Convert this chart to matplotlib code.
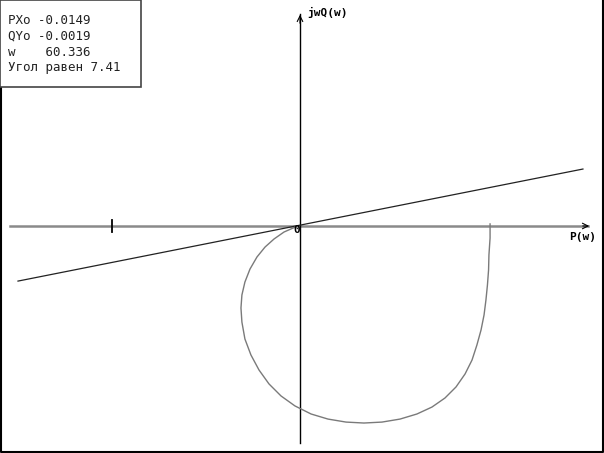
import matplotlib
matplotlib.use("Agg")
import matplotlib.pyplot as plt
from matplotlib.patches import Rectangle

# годограф P(w) + jQ(w)
curve_p = [1.011, 1.011, 1.005, 1.003, 0.997, 0.989, 0.979, 0.963, 0.941, 0.915,
           0.878, 0.830, 0.771, 0.702, 0.622, 0.532, 0.436, 0.340, 0.245, 0.149,
           0.059, -0.027, -0.101, -0.165, -0.218, -0.261, -0.293, -0.309, -0.314,
           -0.309, -0.293, -0.266, -0.229, -0.186, -0.138, -0.085, -0.037, -0.0149]
curve_q = [0.011, -0.064, -0.154, -0.234, -0.314, -0.394, -0.473, -0.553, -0.633,
           -0.713, -0.787, -0.856, -0.915, -0.963, -1.0, -1.027, -1.043, -1.048,
           -1.043, -1.027, -1.0, -0.957, -0.904, -0.840, -0.766, -0.686, -0.601,
           -0.511, -0.436, -0.367, -0.298, -0.229, -0.165, -0.112, -0.069, -0.032,
           -0.011, -0.0019]

# прямая через начало координат
line_p = [-1.5, 1.505]
line_q = [-0.293, 0.303]

tick_p = [-1.0]
info = ["PXo -0.0149", "QYo -0.0019", "w    60.336", "Угол равен 7.41"]

S = 188.0  # px per unit
W, H = 604, 453
x0, y0 = 300, 226

fig = plt.figure(figsize=(W / 100, H / 100), dpi=100)
ax = fig.add_axes([0, 0, 1, 1])
ax.set_xlim(-x0 / S, (W - x0) / S)
ax.set_ylim(-(H - y0) / S, y0 / S)
ax.axis("off")

# оси
ax.plot([-290 / S, 288 / S], [0, 0], color="#8a8a8a", lw=1.8, zorder=1)
ax.annotate("", xy=(292 / S, 0), xytext=(280 / S, 0),
            arrowprops=dict(arrowstyle="->", color="black", lw=0.8))
ax.plot([0, 0], [-217 / S, 212 / S], color="black", lw=1.0, zorder=2)
ax.annotate("", xy=(0, 214 / S), xytext=(0, 200 / S),
            arrowprops=dict(arrowstyle="->", color="black", lw=0.8))
for t in tick_p:
    ax.plot([t, t], [6 / S, -6 / S], color="black", lw=1.3)

ax.plot(line_p, line_q, color="#222222", lw=0.9, zorder=3)
ax.plot(curve_p, curve_q, color="#7a7a7a", lw=1.0, zorder=3)

mono = "DejaVu Sans Mono"
ax.text(7 / S, 214 / S, "jwQ(w)", fontsize=8, fontweight="bold", family=mono,
        va="center", ha="left")
ax.text(269 / S, -11 / S, "P(w)", fontsize=8, fontweight="bold", family=mono,
        va="center", ha="left")
ax.text(-3 / S, -4 / S, "0", fontsize=8, fontweight="bold", family=mono,
        va="center", ha="center")

# информационная рамка
ax.add_patch(Rectangle((0, 1 - 87 / H), 141 / W, 87 / H, transform=ax.transAxes,
                       facecolor="white", edgecolor="#444444", lw=1.2, zorder=5))
for i, s in enumerate(info):
    ax.text(8 / W, 1 - (20 + 16 * i) / H, s, transform=ax.transAxes, fontsize=9,
            family=mono, va="center", ha="left", color="#222222", zorder=6)

# рамка окна
ax.plot([0.5 / W, 0.5 / W, 1 - 1.5 / W, 1 - 1.5 / W], [1, 1.5 / H, 1.5 / H, 1],
        transform=ax.transAxes, color="black", lw=1.5, clip_on=False)

fig.savefig("out.png", dpi=100)
